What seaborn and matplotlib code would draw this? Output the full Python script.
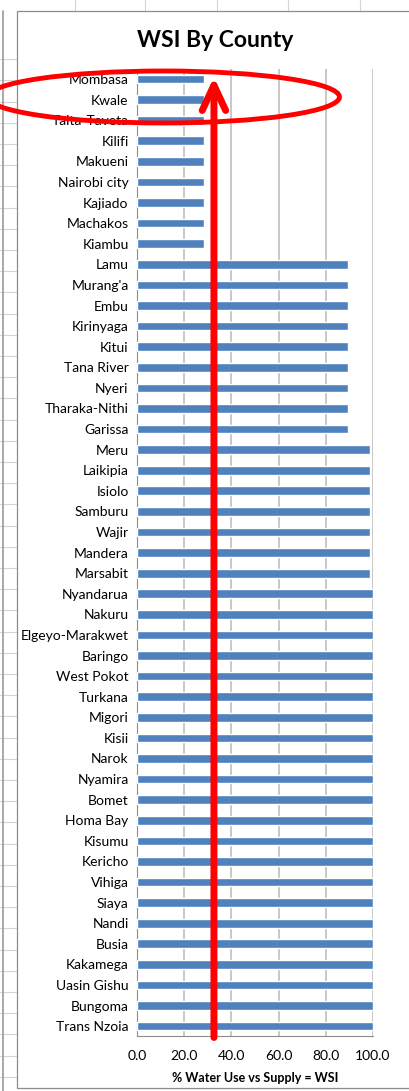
import matplotlib
matplotlib.use("Agg")
import matplotlib.pyplot as plt
from matplotlib.patches import Ellipse, Rectangle
from matplotlib.lines import Line2D
import seaborn as sns
import pandas as pd

counties = ["Mombasa", "Kwale", "Taita-Taveta", "Kilifi", "Makueni", "Nairobi city",
            "Kajiado", "Machakos", "Kiambu", "Lamu", "Murang'a", "Embu", "Kirinyaga",
            "Kitui", "Tana River", "Nyeri", "Tharaka-Nithi", "Garissa", "Meru", "Laikipia",
            "Isiolo", "Samburu", "Wajir", "Mandera", "Marsabit", "Nyandarua", "Nakuru",
            "Elgeyo-Marakwet", "Baringo", "West Pokot", "Turkana", "Migori", "Kisii",
            "Narok", "Nyamira", "Bomet", "Homa Bay", "Kisumu", "Kericho", "Vihiga",
            "Siaya", "Nandi", "Busia", "Kakamega", "Uasin Gishu", "Bungoma", "Trans Nzoia"]
wsi = [28.4] * 9 + [89.4] * 9 + [98.7] * 7 + [100.0] * 22
xticks = [0, 20, 40, 60, 80, 100]
arrow_x = 32.6

df = pd.DataFrame({"county": counties, "wsi": wsi})

sns.set_style("white")
plt.rcParams["font.family"] = ["Lato", "DejaVu Sans"]
plt.rcParams["text.color"] = "black"
plt.rcParams["xtick.color"] = "black"
plt.rcParams["ytick.color"] = "black"
plt.rcParams["axes.labelcolor"] = "black"

fig = plt.figure(figsize=(4.09, 10.91), dpi=100)

# spreadsheet background
for x in [0.183, 0.355, 0.530, 0.704, 0.880]:
    fig.add_artist(Line2D([x, x], [0.99, 1.0], color="#d4d4d4", lw=0.8, zorder=-3))
for y in range(1, 60):
    yy = 1 - (38 + 21.2 * y) / 1091
    if yy > 0:
        fig.add_artist(Line2D([0, 0.042], [yy, yy], color="#d4d4d4", lw=0.8, zorder=-3))
fig.add_artist(Line2D([0.007, 0.007], [0, 0.99], color="#9a9a9a", lw=1.2, zorder=-3))
fig.add_artist(Rectangle((0.042, 0.003), 0.97, 0.987, facecolor="white",
                         edgecolor="#8c8c8c", lw=0.9, zorder=-2))

ax = fig.add_axes([0.335, 0.050, 0.577, 0.887])
ax.patch.set_alpha(0)
sns.barplot(data=df, x="wsi", y="county", orient="h", color="#4F81BD",
            saturation=1, width=0.42, ax=ax, zorder=3)

ax.set_xlim(0, 100)
ax.set_ylim(len(counties) - 0.5, -0.5)
ax.set_xticks(xticks)
ax.set_xticklabels([f"{v:.1f}" for v in xticks], fontsize=10)
ax.xaxis.grid(True, color="#bfbfbf", lw=1.2, zorder=0)
ax.set_axisbelow(True)
ax.tick_params(axis="y", length=0, labelsize=10, pad=6)
ax.tick_params(axis="x", length=4, color="#8c8c8c", direction="out", pad=6)
ax.set_yticks([i + 0.5 for i in range(-1, len(counties))], minor=True)
ax.tick_params(axis="y", which="minor", length=4, color="#8c8c8c", direction="out")
for s in ["top", "right"]:
    ax.spines[s].set_visible(False)
for s in ["left", "bottom"]:
    ax.spines[s].set_color("#8c8c8c")
ax.set_ylabel("")
ax.set_xlabel("% Water Use vs Supply = WSI", fontsize=9, fontweight="bold", labelpad=7)
fig.text(0.525, 0.963, "WSI By County", ha="center", va="center",
         fontsize=16.5, fontweight="bold")

# red annotations
ax.annotate("", xy=(arrow_x, -0.1), xytext=(arrow_x, len(counties) - 0.45),
            arrowprops=dict(arrowstyle="->,head_length=1.4,head_width=0.65",
                            color="red", lw=5, shrinkA=0, shrinkB=0,
                            mutation_scale=13),
            annotation_clip=False, zorder=5)
fig.add_artist(Ellipse((0.40, 1 - 97 / 1091), 0.86, 52 / 1091, fill=False,
                       edgecolor="red", lw=3.5, zorder=6))

fig.savefig("out.png", dpi=100)
